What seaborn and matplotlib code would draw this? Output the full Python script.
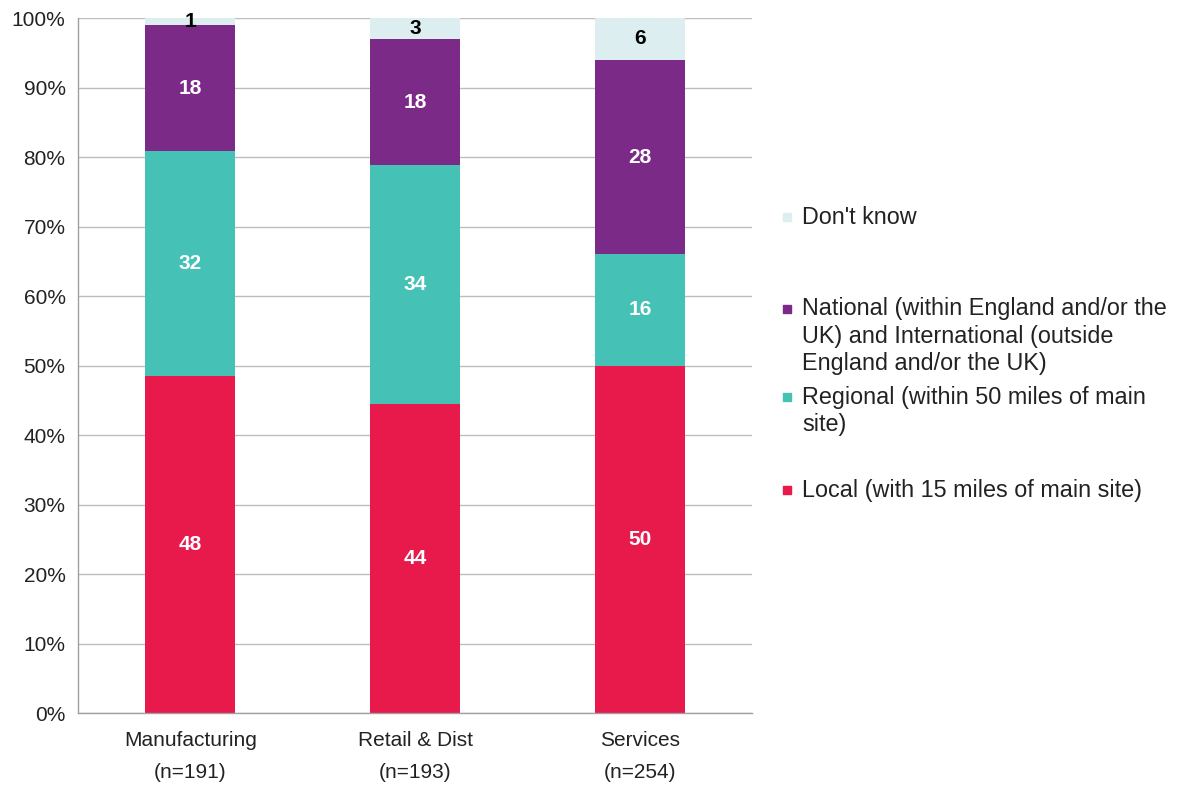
import matplotlib
matplotlib.use("Agg")
import matplotlib.pyplot as plt
from matplotlib.patches import Rectangle
from matplotlib.ticker import PercentFormatter, FixedLocator
import numpy as np
import pandas as pd
import seaborn as sns

# Sectors and survey base sizes
sectors = ["Manufacturing", "Retail & Dist", "Services"]
bases = ["(n=191)", "(n=193)", "(n=254)"]

# Share of customers by market reach (%), stacked bottom to top
local = [48, 44, 50]
regional = [32, 34, 16]
national = [18, 18, 28]
dont_know = [1, 3, 6]

series_names = [
    "Local (with 15 miles of main site)",
    "Regional (within 50 miles of main\nsite)",
    "National (within England and/or the\nUK) and International (outside\nEngland and/or the UK)",
    "Don't know",
]
series_colors = ["#E8194B", "#45C1B5", "#7B2A87", "#DCEEF0"]
label_colors = ["white", "white", "white", "black"]

sns.set_theme(style="white")
plt.rcParams["font.family"] = ["Liberation Sans", "DejaVu Sans"]

fig = plt.figure(figsize=(11.77, 7.85), dpi=100)
ax = fig.add_axes([0.0663, 0.0917, 0.573, 0.8853])

layers = np.array([local, regional, national, dont_know], dtype=float)
totals = layers.sum(axis=0)
shares = layers / totals * 100
cum = np.cumsum(shares, axis=0)

# Draw the stacked bars as cumulative layers, tallest first
for i in range(len(layers) - 1, -1, -1):
    df = pd.DataFrame({"sector": sectors, "value": cum[i]})
    sns.barplot(data=df, x="sector", y="value", color=series_colors[i],
                width=0.4, saturation=1, ax=ax, zorder=2, edgecolor="none")

# Value labels centred in each segment
for i in range(len(layers)):
    for j in range(len(sectors)):
        center = cum[i][j] - shares[i][j] / 2
        ax.text(j, center, f"{int(layers[i][j])}", ha="center", va="center",
                color=label_colors[i], fontsize=15, fontweight="bold", zorder=3)

ax.set_ylim(0, 100)
ax.set_xlim(-0.5, 2.5)
ax.yaxis.set_major_locator(FixedLocator(np.arange(0, 101, 10)))
ax.yaxis.set_major_formatter(PercentFormatter(decimals=0))
ax.grid(axis="y", color="#BDBDBD", linewidth=1.0, zorder=0)
ax.set_axisbelow(True)
ax.set_xlabel("")
ax.set_ylabel("")

ax.set_xticks(range(len(sectors)))
ax.set_xticklabels([f"{s}\n{b}" for s, b in zip(sectors, bases)],
                   linespacing=1.85, fontsize=15, color="#222222")
ax.set_xticks([-0.5, 0.5, 1.5, 2.5], minor=True)
ax.tick_params(axis="x", which="major", length=0, pad=13)
ax.tick_params(axis="x", which="minor", length=6, color="#A0A0A0", width=1)
ax.tick_params(axis="y", length=6, color="#A0A0A0", width=1, labelsize=15,
               labelcolor="#222222", pad=3)

for side in ["top", "right"]:
    ax.spines[side].set_visible(False)
for side in ["left", "bottom"]:
    ax.spines[side].set_color("#A0A0A0")
    ax.spines[side].set_linewidth(1.0)

# Legend, top entry first
legend_y = [217, 336, 411, 490]
W, H = 1177, 785
line_px = 27.5
for idx, i in enumerate(range(len(layers) - 1, -1, -1)):
    yc = legend_y[idx]
    n_lines = series_names[i].count("\n") + 1
    first_line_y = yc - (n_lines - 1) * line_px / 2
    fig.add_artist(Rectangle((783 / W, (H - first_line_y - 4) / H), 8 / W, 8 / H,
                             transform=fig.transFigure, color=series_colors[i]))
    fig.text(802 / W, (H - yc) / H, series_names[i], ha="left", va="center",
             fontsize=16.8, color="#222222", linespacing=1.27)

fig.savefig("out.png", dpi=100)
